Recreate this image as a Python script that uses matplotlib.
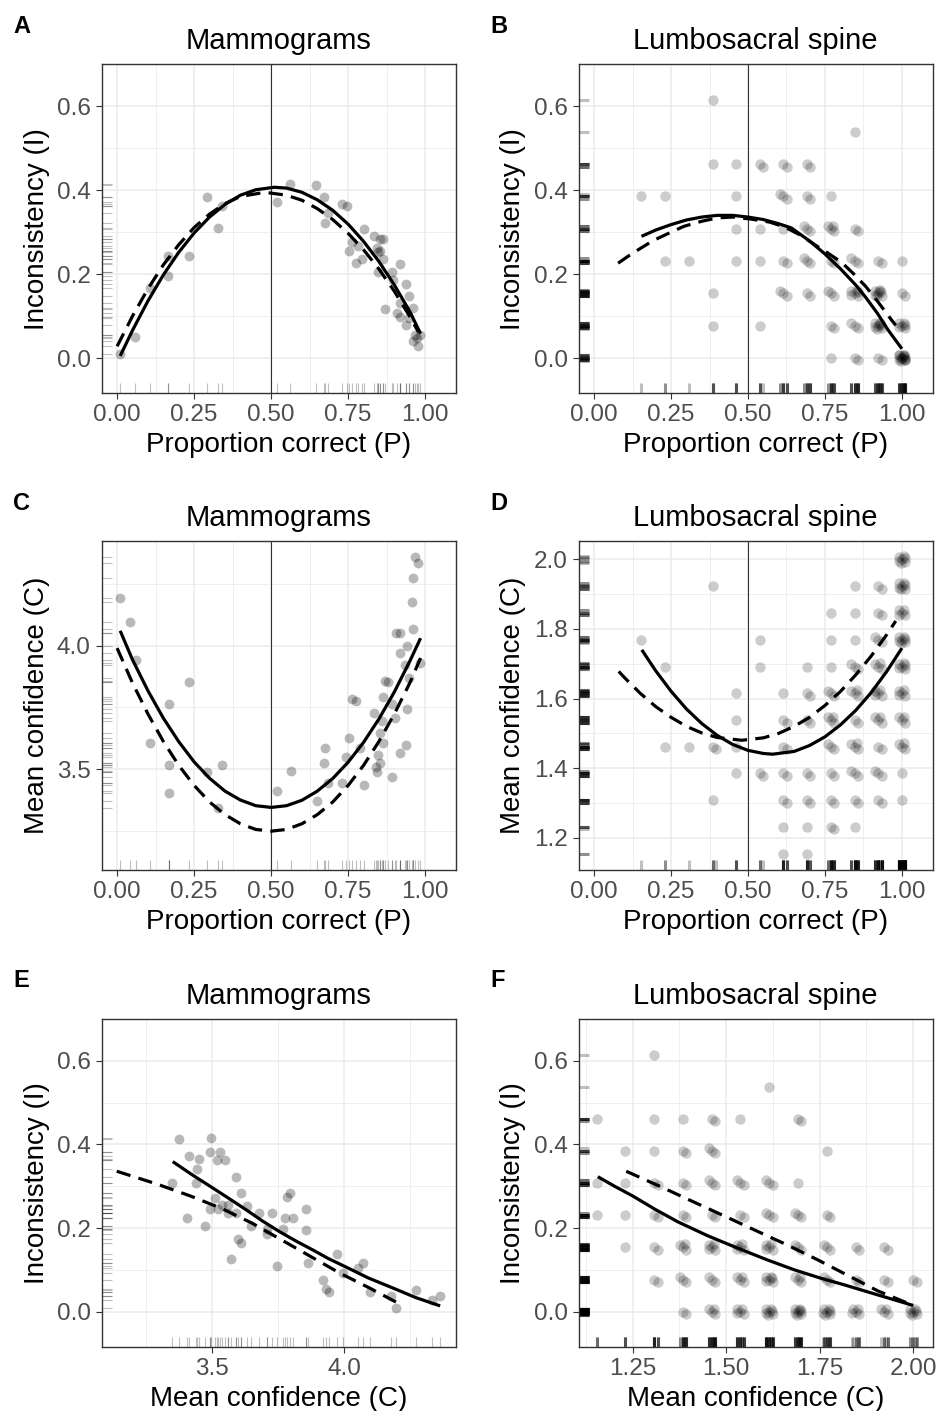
import numpy as np
import matplotlib
matplotlib.use("Agg")
import matplotlib.pyplot as plt

plt.rcParams['font.family'] = ['Liberation Sans', 'DejaVu Sans']

# ---------------- mammograms ----------------
# panel A : proportion correct vs inconsistency
mam_a_p = [0.011, 0.057, 0.106, 0.166, 0.166, 0.234, 0.293, 0.326, 0.339, 0.518, 0.561, 0.646,
           0.670, 0.675, 0.686, 0.729, 0.745, 0.754, 0.762, 0.776, 0.783, 0.794, 0.800, 0.835,
           0.843, 0.854, 0.862, 0.848, 0.854, 0.862, 0.848, 0.870, 0.892, 0.897, 0.919, 0.908,
           0.919, 0.919, 0.938, 0.949, 0.938, 0.946, 0.960, 0.962, 0.973, 0.978, 0.984, 0.967]
mam_a_i = [0.010, 0.050, 0.167, 0.244, 0.196, 0.244, 0.383, 0.309, 0.363, 0.373, 0.415, 0.412,
           0.383, 0.323, 0.346, 0.367, 0.363, 0.254, 0.276, 0.226, 0.267, 0.236, 0.308, 0.290,
           0.262, 0.284, 0.284, 0.252, 0.254, 0.236, 0.204, 0.117, 0.204, 0.187, 0.225, 0.107,
           0.099, 0.131, 0.177, 0.149, 0.079, 0.095, 0.119, 0.040, 0.048, 0.029, 0.056, 0.056]

# panel C : proportion correct vs mean confidence
mam_c_p = [0.011, 0.041, 0.060, 0.108, 0.167, 0.167, 0.167, 0.234, 0.293, 0.328, 0.342, 0.518,
           0.563, 0.648, 0.672, 0.675, 0.686, 0.729, 0.742, 0.754, 0.762, 0.776, 0.789, 0.800,
           0.834, 0.841, 0.843, 0.846, 0.852, 0.854, 0.859, 0.862, 0.862, 0.870, 0.878, 0.892,
           0.892, 0.902, 0.906, 0.919, 0.919, 0.919, 0.938, 0.942, 0.942, 0.949, 0.935, 0.957,
           0.960, 0.962, 0.968, 0.978, 0.982]
mam_c_c = [4.194, 4.096, 3.942, 3.608, 3.763, 3.518, 3.403, 3.852, 3.491, 3.345, 3.518, 3.412,
           3.495, 3.373, 3.527, 3.588, 3.443, 3.446, 3.549, 3.628, 3.784, 3.776, 3.585, 3.437,
           3.726, 3.511, 3.491, 3.558, 3.646, 3.524, 3.697, 3.608, 3.794, 3.858, 3.852, 3.470,
           3.763, 3.706, 4.053, 4.050, 3.969, 3.567, 3.598, 3.743, 4.000, 3.868, 3.922, 4.175,
           4.066, 4.272, 4.360, 4.333, 3.929]

# panel E : mean confidence vs inconsistency
mam_e_c = [3.374, 3.348, 3.413, 3.449, 3.443, 3.438, 3.405, 3.472, 3.495, 3.491, 3.529, 3.519,
           3.548, 3.510, 3.491, 3.523, 3.535, 3.561, 3.561, 3.569, 3.590, 3.588, 3.598, 3.609,
           3.607, 3.630, 3.645, 3.678, 3.706, 3.706, 3.727, 3.744, 3.769, 3.775, 3.784, 3.794,
           3.804, 3.854, 3.854, 3.864, 3.920, 3.929, 3.942, 3.971, 3.996, 4.053, 4.069, 4.097,
           4.175, 4.196, 4.271, 4.331, 4.362]
mam_e_i = [0.412, 0.308, 0.372, 0.365, 0.342, 0.309, 0.225, 0.205, 0.416, 0.382, 0.381, 0.363,
           0.363, 0.273, 0.245, 0.245, 0.255, 0.255, 0.235, 0.127, 0.323, 0.235, 0.175, 0.165,
           0.283, 0.253, 0.206, 0.235, 0.187, 0.197, 0.235, 0.109, 0.197, 0.225, 0.275, 0.283,
           0.225, 0.245, 0.195, 0.117, 0.077, 0.054, 0.048, 0.137, 0.092, 0.105, 0.117, 0.048,
           0.037, 0.008, 0.053, 0.029, 0.038]

# ---------------- lumbosacral spine (cells with number of cases) ----------------
spine_b_p = [0.154, 0.231, 0.231, 0.308, 0.385, 0.385, 0.385, 0.385, 0.462, 0.462, 0.462, 0.462,
             0.538, 0.538, 0.538, 0.538, 0.615, 0.615, 0.615, 0.615, 0.615, 0.692, 0.692, 0.692,
             0.692, 0.692, 0.769, 0.769, 0.769, 0.769, 0.769, 0.769, 0.846, 0.846, 0.846, 0.846,
             0.846, 0.846, 0.923, 0.923, 0.923, 0.923, 1.0, 1.0, 1.0, 1.0]
spine_b_i = [0.385, 0.385, 0.231, 0.231, 0.615, 0.462, 0.154, 0.077, 0.462, 0.385, 0.308, 0.231,
             0.462, 0.308, 0.231, 0.077, 0.462, 0.385, 0.308, 0.231, 0.154, 0.462, 0.385, 0.308,
             0.231, 0.154, 0.385, 0.308, 0.231, 0.154, 0.077, 0.0, 0.538, 0.308, 0.231, 0.154,
             0.077, 0.0, 0.231, 0.154, 0.077, 0.0, 0.231, 0.154, 0.077, 0.0]
spine_b_n = [1, 1, 1, 1, 1, 1, 1, 1, 1, 1, 1, 1,
             2, 1, 1, 1, 2, 3, 1, 2, 3, 2, 2, 3,
             3, 2, 1, 4, 2, 3, 2, 1, 1, 2, 3, 6,
             3, 2, 2, 8, 8, 2, 1, 2, 6, 14]

spine_d_p = [0.154, 0.231, 0.231, 0.308, 0.385, 0.385, 0.385, 0.462, 0.462, 0.462, 0.462,
             0.538, 0.538, 0.538,
             0.615, 0.615, 0.615, 0.615, 0.615, 0.615, 0.615,
             0.692, 0.692, 0.692, 0.692, 0.692, 0.692, 0.692,
             0.769, 0.769, 0.769, 0.769, 0.769, 0.769, 0.769, 0.769, 0.769,
             0.846, 0.846, 0.846, 0.846, 0.846, 0.846, 0.846, 0.846, 0.846, 0.846,
             0.923, 0.923, 0.923, 0.923, 0.923, 0.923, 0.923, 0.923, 0.923,
             1.0, 1.0, 1.0, 1.0, 1.0, 1.0, 1.0, 1.0, 1.0, 1.0]
spine_d_c = [1.769, 1.692, 1.462, 1.462, 1.923, 1.462, 1.308, 1.615, 1.538, 1.462, 1.385,
             1.769, 1.692, 1.385,
             1.615, 1.538, 1.462, 1.385, 1.308, 1.231, 1.154,
             1.692, 1.615, 1.538, 1.385, 1.308, 1.231, 1.154,
             1.846, 1.769, 1.692, 1.615, 1.538, 1.462, 1.385, 1.308, 1.231,
             1.923, 1.846, 1.769, 1.692, 1.615, 1.538, 1.462, 1.385, 1.308, 1.231,
             1.923, 1.846, 1.769, 1.692, 1.615, 1.538, 1.462, 1.385, 1.308,
             2.0, 1.923, 1.846, 1.769, 1.692, 1.615, 1.538, 1.462, 1.385, 1.308]
spine_d_n = [1, 1, 1, 1, 1, 2, 1, 1, 1, 1, 1,
             1, 1, 2,
             1, 2, 2, 2, 2, 1, 1,
             1, 2, 2, 2, 2, 1, 1,
             1, 1, 1, 3, 4, 3, 2, 2, 2,
             1, 1, 1, 3, 4, 2, 4, 3, 2, 1,
             2, 2, 3, 4, 5, 4, 2, 3, 2,
             7, 7, 5, 7, 6, 5, 4, 4, 1, 1]

spine_f_c = [1.154, 1.154, 1.154,
             1.231, 1.231, 1.231, 1.231,
             1.308, 1.308, 1.308, 1.308, 1.308, 1.308, 1.308,
             1.385, 1.385, 1.385, 1.385, 1.385, 1.385, 1.385,
             1.462, 1.462, 1.462, 1.462, 1.462, 1.462, 1.462,
             1.538, 1.538, 1.538, 1.538, 1.538, 1.538,
             1.615, 1.615, 1.615, 1.615, 1.615, 1.615,
             1.692, 1.692, 1.692, 1.692, 1.692, 1.692,
             1.769, 1.769, 1.769, 1.769, 1.769,
             1.846, 1.846, 1.846, 1.923, 1.923, 1.923, 2.0, 2.0]
spine_f_i = [0.462, 0.308, 0.231,
             0.385, 0.308, 0.231, 0.154,
             0.615, 0.462, 0.385, 0.308, 0.231, 0.154, 0.077,
             0.462, 0.385, 0.308, 0.231, 0.154, 0.077, 0.0,
             0.462, 0.385, 0.308, 0.231, 0.154, 0.077, 0.0,
             0.462, 0.308, 0.231, 0.154, 0.077, 0.0,
             0.538, 0.308, 0.231, 0.154, 0.077, 0.0,
             0.462, 0.308, 0.231, 0.154, 0.077, 0.0,
             0.385, 0.231, 0.154, 0.077, 0.0,
             0.154, 0.077, 0.0, 0.154, 0.077, 0.0, 0.077, 0.0]
spine_f_n = [1, 1, 1,
             1, 1, 1, 1,
             1, 1, 1, 2, 2, 2, 2,
             1, 2, 2, 2, 4, 3, 2,
             2, 3, 3, 2, 5, 3, 4,
             1, 3, 2, 5, 4, 5,
             1, 3, 3, 5, 6, 7,
             2, 1, 3, 3, 4, 8,
             1, 2, 3, 3, 7,
             2, 2, 5, 2, 2, 4, 2, 7]

# ---------------- fitted curves ----------------
fit_a_solid_x = [0.01, 0.05, 0.1, 0.15, 0.2, 0.25, 0.3, 0.35, 0.4, 0.45, 0.51, 0.55, 0.6,
                 0.65, 0.7, 0.75, 0.8, 0.85, 0.9, 0.95, 0.985]
fit_a_solid_y = [0.005, 0.066, 0.136, 0.198, 0.252, 0.298, 0.336, 0.366, 0.388, 0.401, 0.407,
                 0.405, 0.395, 0.377, 0.352, 0.319, 0.278, 0.230, 0.174, 0.111, 0.058]
fit_a_dash_x = [0.0, 0.05, 0.1, 0.15, 0.2, 0.25, 0.3, 0.35, 0.4, 0.48, 0.55, 0.6, 0.65, 0.7,
                0.75, 0.8, 0.85, 0.9, 0.95, 0.978]
fit_a_dash_y = [0.028, 0.100, 0.165, 0.222, 0.270, 0.311, 0.343, 0.368, 0.385, 0.395, 0.388,
                0.376, 0.356, 0.330, 0.297, 0.258, 0.212, 0.159, 0.099, 0.062]

fit_b_solid_x = [0.154, 0.2, 0.25, 0.3, 0.35, 0.4, 0.45, 0.5, 0.55, 0.6, 0.641, 0.7, 0.75,
                 0.8, 0.85, 0.88, 0.92, 0.955, 1.0]
fit_b_solid_y = [0.290, 0.305, 0.318, 0.329, 0.336, 0.340, 0.340, 0.336, 0.330, 0.320, 0.310,
                 0.279, 0.248, 0.213, 0.174, 0.147, 0.107, 0.067, 0.022]
fit_b_dash_x = [0.078, 0.121, 0.192, 0.25, 0.292, 0.35, 0.401, 0.45, 0.511, 0.57, 0.620, 0.67,
                0.717, 0.76, 0.804, 0.84, 0.882, 0.92, 0.966, 0.98]
fit_b_dash_y = [0.226, 0.248, 0.280, 0.300, 0.314, 0.326, 0.334, 0.336, 0.331, 0.324, 0.312,
                0.293, 0.270, 0.250, 0.228, 0.203, 0.171, 0.136, 0.091, 0.078]

fit_c_solid_x = [0.01, 0.05, 0.1, 0.15, 0.2, 0.25, 0.3, 0.35, 0.4, 0.45, 0.5, 0.55, 0.6, 0.65,
                 0.7, 0.75, 0.8, 0.85, 0.9, 0.95, 0.985]
fit_c_solid_y = [4.06, 3.943, 3.818, 3.707, 3.612, 3.530, 3.464, 3.412, 3.376, 3.353, 3.346,
                 3.353, 3.375, 3.412, 3.463, 3.529, 3.609, 3.704, 3.813, 3.937, 4.03]
fit_c_dash_x = [0.0, 0.05, 0.1, 0.15, 0.2, 0.25, 0.3, 0.35, 0.4, 0.45, 0.5, 0.55, 0.6, 0.65,
                0.7, 0.75, 0.8, 0.85, 0.9, 0.95, 0.985]
fit_c_dash_y = [3.99, 3.849, 3.724, 3.613, 3.516, 3.435, 3.368, 3.317, 3.280, 3.257, 3.25,
                3.257, 3.28, 3.317, 3.368, 3.435, 3.516, 3.613, 3.724, 3.849, 3.95]

fit_d_solid_x = [0.155, 0.2, 0.25, 0.3, 0.35, 0.4, 0.45, 0.5, 0.55, 0.58, 0.65, 0.7, 0.75,
                 0.8, 0.85, 0.9, 0.95, 1.0]
fit_d_solid_y = [1.74, 1.680, 1.621, 1.570, 1.528, 1.494, 1.468, 1.451, 1.442, 1.44, 1.448,
                 1.465, 1.490, 1.524, 1.566, 1.617, 1.677, 1.745]
fit_d_dash_x = [0.08, 0.1, 0.15, 0.2, 0.25, 0.3, 0.35, 0.4, 0.48, 0.55, 0.6, 0.65, 0.7, 0.75,
                0.8, 0.85, 0.9, 0.95, 0.98]
fit_d_dash_y = [1.678, 1.659, 1.615, 1.577, 1.546, 1.520, 1.501, 1.488, 1.48, 1.487, 1.500,
                1.520, 1.546, 1.580, 1.620, 1.668, 1.722, 1.783, 1.823]

fit_e_solid_x = [3.35, 3.42, 3.504, 3.57, 3.630, 3.69, 3.756, 3.82, 3.883, 3.94, 4.003, 4.09,
                 4.187, 4.27, 4.363]
fit_e_solid_y = [0.359, 0.329, 0.295, 0.268, 0.243, 0.217, 0.191, 0.168, 0.147, 0.127, 0.108,
                 0.081, 0.056, 0.034, 0.014]
fit_e_dash_x = [3.138, 3.292, 3.416, 3.535, 3.65, 3.756, 3.870, 3.984, 4.098, 4.217]
fit_e_dash_y = [0.336, 0.305, 0.277, 0.247, 0.212, 0.174, 0.133, 0.092, 0.056, 0.016]

fit_f_solid_x = [1.157, 1.2, 1.25, 1.31, 1.371, 1.45, 1.531, 1.61, 1.683, 1.75, 1.817, 1.91, 2.0]
fit_f_solid_y = [0.323, 0.301, 0.277, 0.245, 0.215, 0.182, 0.152, 0.124, 0.100, 0.081, 0.064,
                 0.039, 0.015]
fit_f_dash_x = [1.233, 1.33, 1.417, 1.5, 1.582, 1.665, 1.745, 1.825, 1.905, 2.0]
fit_f_dash_y = [0.336, 0.297, 0.261, 0.227, 0.193, 0.159, 0.124, 0.087, 0.050, 0.015]

# small fixed jitter pattern for stacked cases (like geom_jitter, but repeatable)
jit = [(0, 0), (1, -0.8), (-0.9, 0.9), (0.6, 1), (-1, -0.5), (0.9, 0.4),
       (-0.4, -1), (0.2, 0.7), (-0.7, 0.1), (0.8, -0.2)]


def expand(xs, ys, ns, ax_amp, ay_amp):
    ox, oy = [], []
    for x, y, n in zip(xs, ys, ns):
        for r in range(n):
            dx, dy = jit[r % len(jit)]
            ox.append(x + dx * ax_amp)
            oy.append(y + dy * ay_amp)
    return np.array(ox), np.array(oy)


fig = plt.figure(figsize=(9.4, 14.11), dpi=100)

W, H = 940.0, 1411.0


def add_ax(left, top, right, bottom):
    return fig.add_axes([left / W, 1 - bottom / H, (right - left) / W, (bottom - top) / H])


def style(ax, xlim, ylim, xmaj, xmin, ymaj, ymin, xlab, ylab, fmtx, fmty):
    ax.set_xlim(xlim)
    ax.set_ylim(ylim)
    ax.set_xticks(xmaj)
    ax.set_xticks(xmin, minor=True)
    ax.set_yticks(ymaj)
    ax.set_yticks(ymin, minor=True)
    ax.set_xticklabels([fmtx % v for v in xmaj])
    ax.set_yticklabels([fmty % v for v in ymaj])
    ax.grid(which='major', color='#ebebeb', lw=1.1)
    ax.grid(which='minor', color='#ebebeb', lw=0.55)
    ax.set_axisbelow(True)
    ax.tick_params(which='minor', length=0)
    ax.tick_params(which='major', length=4, width=0.8, color='#333333',
                   labelsize=17.5, labelcolor='#4d4d4d', pad=4)
    for s in ax.spines.values():
        s.set_color('#333333')
        s.set_linewidth(1.0)
    ax.set_xlabel(xlab, fontsize=20)
    ax.set_ylabel(ylab, fontsize=20)


def rugs(ax, xs, ys, alpha, lw=0.8):
    ax.vlines(xs, 0, 0.03, transform=ax.get_xaxis_transform(), color='black',
              alpha=alpha, lw=lw, zorder=2)
    ax.hlines(ys, 0, 0.03, transform=ax.get_yaxis_transform(), color='black',
              alpha=alpha, lw=lw, zorder=2)


def fits(ax, sx, sy, dx, dy):
    ax.plot(sx, sy, color='black', lw=2.3, solid_capstyle='butt', solid_joinstyle='round', zorder=4)
    ax.plot(dx, dy, color='black', lw=2.3, ls=(0, (4.5, 2.6)), dash_capstyle='butt',
            dash_joinstyle='round', zorder=4)


p_ticks = [0.0, 0.25, 0.5, 0.75, 1.0]
p_minor = [0.125, 0.375, 0.625, 0.875]
i_ticks = [0.0, 0.2, 0.4, 0.6]
i_minor = [0.1, 0.3, 0.5]
P_LAB = 'Proportion correct (P)'
I_LAB = 'Inconsistency (I)'
C_LAB = 'Mean confidence (C)'
MS = 50
MS_SP = 56
MAM_A = 0.28
SP_A = 0.2

axes = {}
axes['A'] = add_ax(101.7, 64.3, 456, 393.3)
axes['B'] = add_ax(578.7, 64.3, 932.7, 393.3)
axes['C'] = add_ax(101.7, 541, 456, 870)
axes['D'] = add_ax(578.7, 541, 932.7, 870)
axes['E'] = add_ax(101.7, 1019, 456, 1347.3)
axes['F'] = add_ax(578.7, 1019, 932.7, 1347.3)

# A
ax = axes['A']
ax.scatter(mam_a_p, mam_a_i, s=MS, color='black', alpha=MAM_A, lw=0, zorder=3)
rugs(ax, mam_a_p, mam_a_i, 0.25)
ax.axvline(0.5, color='#333333', lw=0.8, zorder=2)
fits(ax, fit_a_solid_x, fit_a_solid_y, fit_a_dash_x, fit_a_dash_y)
style(ax, (-0.05, 1.10), (-0.084, 0.70), p_ticks, p_minor, i_ticks, i_minor,
      P_LAB, I_LAB, '%.2f', '%.1f')
ax.set_title('Mammograms', fontsize=21, pad=11)

# B
ax = axes['B']
bx, by = expand(spine_b_p, spine_b_i, spine_b_n, 0.011, 0.007)
ax.scatter(bx, by, s=MS_SP, color='black', alpha=SP_A, lw=0, zorder=3)
rugs(ax, bx, by, 0.25, 2.2)
ax.axvline(0.5, color='#333333', lw=0.8, zorder=2)
fits(ax, fit_b_solid_x, fit_b_solid_y, fit_b_dash_x, fit_b_dash_y)
style(ax, (-0.05, 1.10), (-0.084, 0.70), p_ticks, p_minor, i_ticks, i_minor,
      P_LAB, I_LAB, '%.2f', '%.1f')
ax.set_title('Lumbosacral spine', fontsize=21, pad=11)

# C
ax = axes['C']
ax.scatter(mam_c_p, mam_c_c, s=MS, color='black', alpha=MAM_A, lw=0, zorder=3)
rugs(ax, mam_c_p, mam_c_c, 0.25)
ax.axvline(0.5, color='#333333', lw=0.8, zorder=2)
fits(ax, fit_c_solid_x, fit_c_solid_y, fit_c_dash_x, fit_c_dash_y)
style(ax, (-0.05, 1.10), (3.093, 4.423), p_ticks, p_minor, [3.5, 4.0], [3.25, 3.75, 4.25],
      P_LAB, C_LAB, '%.2f', '%.1f')
ax.set_title('Mammograms', fontsize=21, pad=11)

# D
ax = axes['D']
dx_, dy_ = expand(spine_d_p, spine_d_c, spine_d_n, 0.011, 0.009)
ax.scatter(dx_, dy_, s=MS_SP, color='black', alpha=SP_A, lw=0, zorder=3)
rugs(ax, dx_, dy_, 0.25, 2.2)
ax.axvline(0.5, color='#333333', lw=0.8, zorder=2)
fits(ax, fit_d_solid_x, fit_d_solid_y, fit_d_dash_x, fit_d_dash_y)
style(ax, (-0.05, 1.10), (1.107, 2.053), p_ticks, p_minor, [1.2, 1.4, 1.6, 1.8, 2.0],
      [1.3, 1.5, 1.7, 1.9], P_LAB, C_LAB, '%.2f', '%.1f')
ax.set_title('Lumbosacral spine', fontsize=21, pad=11)

# E
ax = axes['E']
ax.scatter(mam_e_c, mam_e_i, s=MS, color='black', alpha=MAM_A, lw=0, zorder=3)
rugs(ax, mam_e_c, mam_e_i, 0.25)
fits(ax, fit_e_solid_x, fit_e_solid_y, fit_e_dash_x, fit_e_dash_y)
style(ax, (3.081, 4.423), (-0.085, 0.70), [3.5, 4.0], [3.25, 3.75, 4.25], i_ticks, i_minor,
      C_LAB, I_LAB, '%.1f', '%.1f')
ax.set_title('Mammograms', fontsize=21, pad=11)

# F
ax = axes['F']
fx, fy = expand(spine_f_c, spine_f_i, spine_f_n, 0.009, 0.007)
ax.scatter(fx, fy, s=MS_SP, color='black', alpha=SP_A, lw=0, zorder=3)
rugs(ax, fx, fy, 0.25, 2.2)
fits(ax, fit_f_solid_x, fit_f_solid_y, fit_f_dash_x, fit_f_dash_y)
style(ax, (1.106, 2.052), (-0.085, 0.70), [1.25, 1.5, 1.75, 2.0], [1.125, 1.375, 1.625, 1.875],
      i_ticks, i_minor, C_LAB, I_LAB, '%.2f', '%.1f')
ax.set_title('Lumbosacral spine', fontsize=21, pad=11)

# label positions
for k in ['A', 'C', 'E']:
    axes[k].yaxis.set_label_coords(-0.145, 0.5)
for k in ['B', 'D', 'F']:
    axes[k].yaxis.set_label_coords(-0.149, 0.5)
for k in axes:
    axes[k].xaxis.set_label_coords(0.5, -0.118)

# panel letters
letter_pos = {'A': (13, 33), 'B': (490, 33), 'C': (13, 510), 'D': (490, 510),
              'E': (13, 987), 'F': (490, 987)}
for k, (x, y) in letter_pos.items():
    fig.text(x / W, 1 - y / H, k, fontsize=17, fontweight='bold', va='baseline', ha='left')

fig.savefig('out.png', dpi=100)
